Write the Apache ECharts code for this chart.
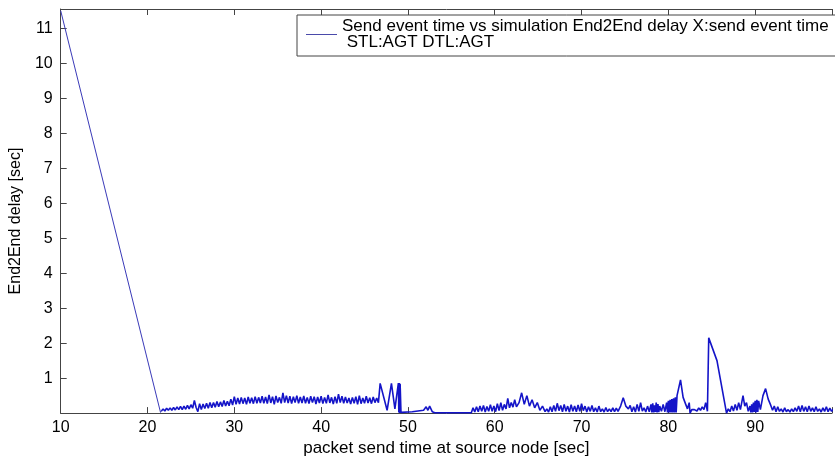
<!DOCTYPE html>
<html>
<head>
<meta charset="utf-8" />
<title>End2End delay</title>
<style>
  html, body { margin: 0; padding: 0; background: #fff; }
  #chart { width: 835px; height: 462px; }
</style>
</head>
<body>
<div id="chart"></div>
<script src="https://cdn.jsdelivr.net/npm/echarts@6/dist/echarts.min.js"></script>
<script>
// send time [sec], End2End delay [sec]
var rampPoints = [[10, 11.5], [21.5, 0.02], [21.6, 0.06]];

var earlyNoise = [
  [21.6, 0.06], [21.8, 0.12], [22.0, 0.06], [22.2, 0.14], [22.4, 0.08], [22.6, 0.15], [22.8, 0.08], [23.0, 0.16],
  [23.2, 0.09], [23.4, 0.18], [23.6, 0.1], [23.8, 0.19], [24.0, 0.1], [24.2, 0.2], [24.4, 0.11], [24.6, 0.22],
  [24.8, 0.12], [25.0, 0.24], [25.2, 0.14], [25.4, 0.36], [25.6, 0.16], [25.8, 0.04], [26.0, 0.27], [26.2, 0.1],
  [26.4, 0.26], [26.6, 0.13], [26.8, 0.28], [27.0, 0.14], [27.2, 0.3], [27.4, 0.15], [27.6, 0.3], [27.8, 0.17],
  [28.0, 0.33], [28.2, 0.18], [28.4, 0.32], [28.6, 0.19], [28.8, 0.36], [29.0, 0.2], [29.2, 0.34], [29.4, 0.21],
  [29.6, 0.4], [29.8, 0.23], [30.0, 0.47], [30.2, 0.25], [30.4, 0.43], [30.6, 0.26], [30.8, 0.45], [31.0, 0.27],
  [31.2, 0.43], [31.4, 0.25], [31.6, 0.46], [31.8, 0.28], [32.0, 0.44], [32.2, 0.27], [32.4, 0.47], [32.6, 0.28],
  [32.8, 0.45], [33.0, 0.29], [33.2, 0.48], [33.4, 0.28], [33.6, 0.46], [33.8, 0.27], [34.0, 0.52], [34.2, 0.29],
  [34.4, 0.47], [34.6, 0.25], [34.8, 0.49], [35.0, 0.3], [35.2, 0.45], [35.4, 0.28], [35.6, 0.58], [35.8, 0.3],
  [36.0, 0.5], [36.2, 0.29], [36.4, 0.48], [36.6, 0.27], [36.8, 0.47], [37.0, 0.3], [37.2, 0.5], [37.4, 0.28],
  [37.6, 0.46], [37.8, 0.29], [38.0, 0.49], [38.2, 0.28], [38.4, 0.45], [38.6, 0.27], [38.8, 0.48], [39.0, 0.3],
  [39.2, 0.47], [39.4, 0.26], [39.6, 0.46], [39.8, 0.29], [40.0, 0.48], [40.2, 0.27], [40.4, 0.45], [40.6, 0.28],
  [40.8, 0.52], [41.0, 0.29], [41.2, 0.45], [41.4, 0.26], [41.6, 0.47], [41.8, 0.28], [42.0, 0.54], [42.2, 0.3],
  [42.4, 0.48], [42.6, 0.28], [42.8, 0.46], [43.0, 0.29], [43.2, 0.43], [43.4, 0.26], [43.6, 0.45], [43.8, 0.28],
  [44.0, 0.47], [44.2, 0.25], [44.4, 0.5], [44.6, 0.27], [44.8, 0.43], [45.0, 0.28], [45.2, 0.48], [45.4, 0.29],
  [45.6, 0.44], [45.8, 0.27], [46.0, 0.46], [46.2, 0.3], [46.4, 0.43], [46.6, 0.3]
];

var gapPoints = [
  [46.8, 0.85], [47.6, 0.08], [48.1, 0.85], [48.5, 0.12], [48.9, 0.86], [48.95, 0.02], [49.0, 0.86], [49.05, 0.0],
  [49.1, 0.84], [49.2, 0.02], [50.5, 0.04], [51.8, 0.08], [52.1, 0.18], [52.3, 0.08], [52.5, 0.2], [52.8, 0.04],
  [53.1, 0.01], [57.3, 0.01]
];

var lateNoise = [
  [57.5, 0.15], [57.7, 0.03], [57.9, 0.18], [58.1, 0.04], [58.3, 0.2], [58.5, 0.05], [58.7, 0.22], [58.9, 0.03],
  [59.1, 0.19], [59.3, 0.05], [59.5, 0.24], [59.7, 0.05], [59.9, 0.2], [60.1, 0.04], [60.3, 0.27], [60.5, 0.07],
  [60.7, 0.3], [60.9, 0.08], [61.1, 0.25], [61.3, 0.12], [61.5, 0.42], [61.7, 0.15], [61.9, 0.3], [62.1, 0.17],
  [62.3, 0.38], [62.5, 0.18], [62.8, 0.3], [63.1, 0.58], [63.4, 0.25], [63.7, 0.5], [64.0, 0.2], [64.3, 0.38],
  [64.6, 0.15], [64.9, 0.3], [65.2, 0.08], [65.5, 0.2], [65.8, 0.04], [66.0, 0.12], [66.2, 0.03], [66.4, 0.18],
  [66.6, 0.04], [66.8, 0.22], [67.0, 0.05], [67.2, 0.28], [67.4, 0.07], [67.6, 0.22], [67.8, 0.04], [68.0, 0.25],
  [68.2, 0.05], [68.4, 0.2], [68.6, 0.03], [68.8, 0.24], [69.0, 0.05], [69.2, 0.2], [69.4, 0.04], [69.6, 0.23],
  [69.8, 0.05], [70.0, 0.27], [70.2, 0.07], [70.4, 0.2], [70.6, 0.03], [70.8, 0.18], [71.0, 0.05], [71.2, 0.22],
  [71.4, 0.04], [71.6, 0.15], [71.8, 0.03], [72.0, 0.2], [72.2, 0.04], [72.4, 0.12], [72.6, 0.03], [72.8, 0.16],
  [73.0, 0.04], [73.2, 0.12], [73.4, 0.04], [73.6, 0.15], [73.8, 0.04], [74.0, 0.14], [74.2, 0.05], [74.5, 0.2],
  [74.8, 0.44], [75.1, 0.2], [75.4, 0.12], [75.6, 0.22], [75.8, 0.04], [76.0, 0.18], [76.2, 0.03], [76.4, 0.25],
  [76.6, 0.05], [76.8, 0.3], [77.0, 0.06], [77.2, 0.15], [77.4, 0.03], [77.6, 0.2], [77.8, 0.04],
  [78.0, 0.25], [78.1, 0.02], [78.2, 0.28], [78.3, 0.02], [78.4, 0.22], [78.5, 0.03], [78.6, 0.3], [78.7, 0.02],
  [78.8, 0.26], [78.9, 0.03], [79.0, 0.2], [79.2, 0.05], [79.4, 0.25], [79.6, 0.04], [79.8, 0.3], [79.9, 0.02],
  [80.0, 0.35], [80.1, 0.02], [80.2, 0.38], [80.3, 0.02], [80.4, 0.4], [80.5, 0.02], [80.6, 0.42], [80.7, 0.02],
  [80.8, 0.45], [80.9, 0.02], [81.0, 0.5], [81.4, 0.95], [81.7, 0.45], [82.0, 0.25], [82.2, 0.12], [82.4, 0.3],
  [82.5, 0.0], [82.7, 0.1], [83.0, 0.1], [83.3, 0.06], [83.5, 0.15], [83.7, 0.08], [83.9, 0.18], [84.1, 0.1],
  [84.3, 0.3], [84.5, 0.05], [84.6, 0.0], [84.65, 2.15], [85.6, 1.5], [86.7, 0.0], [86.9, 0.12], [87.1, 0.04],
  [87.3, 0.2], [87.5, 0.06], [87.7, 0.25], [87.9, 0.08], [88.1, 0.3], [88.3, 0.1], [88.6, 0.5], [88.8, 0.2],
  [89.0, 0.3], [89.2, 0.05], [89.4, 0.2], [89.5, 0.02], [89.6, 0.25], [89.7, 0.02], [89.8, 0.3], [89.9, 0.03],
  [90.0, 0.35], [90.1, 0.02], [90.2, 0.38], [90.3, 0.03], [90.4, 0.35], [90.6, 0.1], [90.9, 0.5], [91.2, 0.7],
  [91.5, 0.4], [91.8, 0.22], [92.0, 0.08], [92.2, 0.2], [92.4, 0.04], [92.6, 0.18], [92.8, 0.05], [93.0, 0.12],
  [93.2, 0.03], [93.4, 0.15], [93.6, 0.04], [93.8, 0.1], [94.0, 0.03], [94.2, 0.12], [94.4, 0.04], [94.6, 0.15],
  [94.8, 0.05], [95.0, 0.2], [95.2, 0.04], [95.4, 0.22], [95.6, 0.05], [95.8, 0.18], [96.0, 0.04], [96.2, 0.2],
  [96.4, 0.05], [96.6, 0.15], [96.8, 0.04], [97.0, 0.18], [97.2, 0.05], [97.4, 0.12], [97.6, 0.03], [97.8, 0.15],
  [98.0, 0.05], [98.2, 0.18], [98.4, 0.04], [98.6, 0.14], [98.8, 0.05], [99.0, 0.12]
];

var seriesName = 'Send event time vs simulation End2End delay X:send event time\n STL:AGT DTL:AGT';
var xTicks = [10, 20, 30, 40, 50, 60, 70, 80, 90];
var yTicks = [1, 2, 3, 4, 5, 6, 7, 8, 9, 10, 11];

var chart = echarts.init(document.getElementById('chart'));
var font = 'Liberation Sans, Arial, sans-serif';
var axisColor = '#444';
var lineColor = '#1414c8';

function tickOnly(list) {
  return function (v) { return list.indexOf(v) >= 0 ? String(v) : ''; };
}

var option = {
  animation: false,
  backgroundColor: '#fff',
  grid: { left: 56, right: 0, top: 9, bottom: 38 },
  legend: {
    left: 297,
    top: 15,
    padding: [3, 7, 5, 9],
    borderColor: axisColor,
    borderWidth: 1,
    backgroundColor: '#fff',
    icon: 'rect',
    itemWidth: 31,
    itemHeight: 1,
    itemGap: 9,
    itemStyle: { color: '#4a4aaa' },
    textStyle: { fontFamily: font, fontSize: 17, lineHeight: 16, color: '#000' },
    data: [seriesName]
  },
  xAxis: [{
    type: 'value',
    min: 10,
    max: 98.85,
    interval: 10,
    name: 'packet send time at source node [sec]',
    nameLocation: 'middle',
    nameGap: 21,
    nameTextStyle: { fontFamily: font, fontSize: 17, color: '#000' },
    axisLine: { show: true, onZero: false, lineStyle: { color: axisColor } },
    axisTick: { show: true, inside: true, length: 6, lineStyle: { color: axisColor } },
    axisLabel: { fontFamily: font, fontSize: 16, color: '#000', margin: 6, formatter: tickOnly(xTicks) },
    splitLine: { show: false }
  }, {
    type: 'value',
    position: 'top',
    min: 10,
    max: 98.85,
    interval: 10,
    axisLine: { show: true, onZero: false, lineStyle: { color: axisColor } },
    axisTick: { show: true, inside: true, length: 6, lineStyle: { color: axisColor } },
    axisLabel: { show: false },
    splitLine: { show: false }
  }],
  yAxis: {
    type: 'value',
    min: 0,
    max: 11.55,
    interval: 1,
    name: 'End2End delay [sec]',
    nameLocation: 'middle',
    nameGap: 25,
    nameTextStyle: { fontFamily: font, fontSize: 16, color: '#000', padding: [0, 20, 0, 0] },
    axisLine: { show: true, lineStyle: { color: axisColor } },
    axisTick: { show: true, inside: true, length: 6, lineStyle: { color: axisColor } },
    axisLabel: { fontFamily: font, fontSize: 16, color: '#000', margin: 8, formatter: tickOnly(yTicks) },
    splitLine: { show: false }
  },
  series: [{
    // sparse start of the trace: thin line
    name: seriesName,
    type: 'line',
    symbol: 'none',
    lineStyle: { color: '#3a3ab8', width: 1 },
    itemStyle: { color: lineColor },
    data: rampPoints
  }, {
    // dense part of the same trace
    name: seriesName,
    type: 'line',
    symbol: 'none',
    lineStyle: { color: lineColor, width: 1.6 },
    itemStyle: { color: lineColor },
    data: earlyNoise.concat(gapPoints, lateNoise)
  }]
};

chart.setOption(option);
</script>
</body>
</html>
